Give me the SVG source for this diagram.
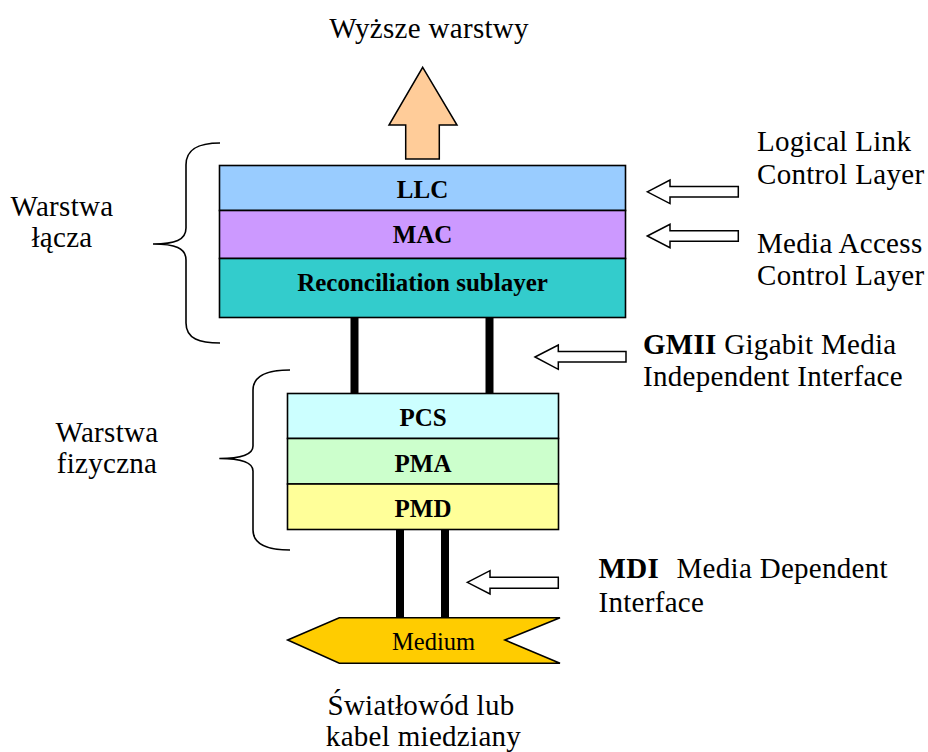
<svg xmlns="http://www.w3.org/2000/svg" width="928" height="752" viewBox="0 0 928 752">
  <style>
    .lbl { font-family: "Liberation Serif", "Times New Roman", serif; font-size: 29px; letter-spacing: 0.3px; fill: #000; }
    .box-lbl { font-family: "Liberation Serif", "Times New Roman", serif; font-size: 25px; font-weight: bold; fill: #000; text-anchor: middle; }
    .mid { text-anchor: middle; }
    .layer { stroke: #000; stroke-width: 1.6; }
    .bar { stroke: #000; stroke-width: 8; }
    .hollow { fill: #fff; stroke: #000; stroke-width: 1.5; stroke-linejoin: miter; }
    .brace { fill: none; stroke: #000; stroke-width: 1.6; }
  </style>
  <rect width="928" height="752" fill="#fff"/>

  <!-- upward arrow to higher layers -->
  <g id="upper-layers">
    <polygon points="422.7,67.3 457,125 439.3,125 439.3,159 405.7,159 405.7,125 389,125" fill="#FFCC99" stroke="#000" stroke-width="1.5"/>
    <text class="lbl mid" x="429" y="37.5">Wyższe warstwy</text>
  </g>

  <!-- data link sublayers -->
  <g id="llc">
    <rect class="layer" x="219.5" y="165.5" width="406" height="45" fill="#99CCFF"/>
    <text class="box-lbl" x="422.5" y="197.5">LLC</text>
  </g>
  <g id="mac">
    <rect class="layer" x="219.5" y="210.5" width="406" height="48" fill="#CC99FF"/>
    <text class="box-lbl" x="422.5" y="242.5">MAC</text>
  </g>
  <g id="reconciliation">
    <rect class="layer" x="219.5" y="258.5" width="406" height="59" fill="#33CCCC"/>
    <text class="box-lbl" x="422.5" y="291">Reconciliation sublayer</text>
  </g>

  <!-- physical sublayers -->
  <g id="pcs">
    <rect class="layer" x="287.5" y="393.5" width="271" height="45" fill="#CCFFFF"/>
    <text class="box-lbl" x="423" y="425.5">PCS</text>
  </g>
  <g id="pma">
    <rect class="layer" x="287.5" y="438.5" width="271" height="45.5" fill="#CCFFCC"/>
    <text class="box-lbl" x="423" y="471.5">PMA</text>
  </g>
  <g id="pmd">
    <rect class="layer" x="287.5" y="484" width="271" height="45.5" fill="#FFFF99"/>
    <text class="box-lbl" x="423" y="516.5">PMD</text>
  </g>

  <!-- transmission medium -->
  <g id="medium">
    <polygon points="287.7,640 339.3,617.7 560,617.7 505,640 560,663.3 339.3,663.3" fill="#FFCC00" stroke="#000" stroke-width="1.6"/>
    <text class="lbl mid" x="433.5" y="649.5" style="font-size:24.5px;letter-spacing:0">Medium</text>
  </g>

  <!-- interface lines between layers -->
  <g id="connectors">
    <line class="bar" x1="354.5" y1="318" x2="354.5" y2="393"/>
    <line class="bar" x1="489.5" y1="318" x2="489.5" y2="393"/>
    <line class="bar" x1="400" y1="530" x2="400" y2="617"/>
    <line class="bar" x1="445" y1="530" x2="445" y2="617"/>
  </g>

  <!-- side annotations with hollow pointers -->
  <g id="llc-note">
    <polygon class="hollow" points="647.3,191.8 670,180 670,186.6 738.3,186.6 738.3,197 670,197 670,203.6"/>
    <text class="lbl" x="757" y="151">Logical Link</text>
    <text class="lbl" x="757" y="183.5">Control Layer</text>
  </g>
  <g id="mac-note">
    <polygon class="hollow" points="647.3,236 670,224.3 670,230.8 738.3,230.8 738.3,241.2 670,241.2 670,247.7"/>
    <text class="lbl" x="757" y="252.5">Media Access</text>
    <text class="lbl" x="757" y="285">Control Layer</text>
  </g>
  <g id="gmii-note">
    <polygon class="hollow" points="535,357 558.3,345 558.3,351.5 626,351.5 626,362 558.3,362 558.3,369.3"/>
    <text class="lbl" x="643" y="353.5"><tspan font-weight="bold">GMII</tspan> Gigabit Media</text>
    <text class="lbl" x="643" y="386">Independent Interface</text>
  </g>
  <g id="mdi-note">
    <polygon class="hollow" points="467.3,582.3 490,570.7 490,577.3 558.3,577.3 558.3,588.3 490,588.3 490,594"/>
    <text class="lbl" x="598.5" y="577.5"><tspan font-weight="bold">MDI</tspan><tspan x="676.5">Media Dependent</tspan></text>
    <text class="lbl" x="598.5" y="611.5">Interface</text>
  </g>

  <!-- grouping braces -->
  <g id="data-link-group">
    <path class="brace" d="M220,143 C200,143 186,148 186,165 L186,228 C186,240 175,244 153,244 C175,244 186,248 186,260 L186,323 C186,339 200,343 220,343"/>
    <text class="lbl mid" x="62" y="216">Warstwa</text>
    <text class="lbl mid" x="62" y="247">łącza</text>
  </g>
  <g id="physical-group">
    <path class="brace" d="M290,370 C270,370 253,374 253,390 L253,446 C253,455 241,458.5 219.3,458.5 C241,458.5 253,462 253,471 L253,530 C253,546 270,550 290,550"/>
    <text class="lbl mid" x="107" y="442">Warstwa</text>
    <text class="lbl mid" x="107" y="473">fizyczna</text>
  </g>

  <!-- medium description -->
  <g id="medium-note">
    <text class="lbl mid" x="421" y="715">Światłowód lub</text>
    <text class="lbl mid" x="423.5" y="746">kabel miedziany</text>
  </g>
</svg>
